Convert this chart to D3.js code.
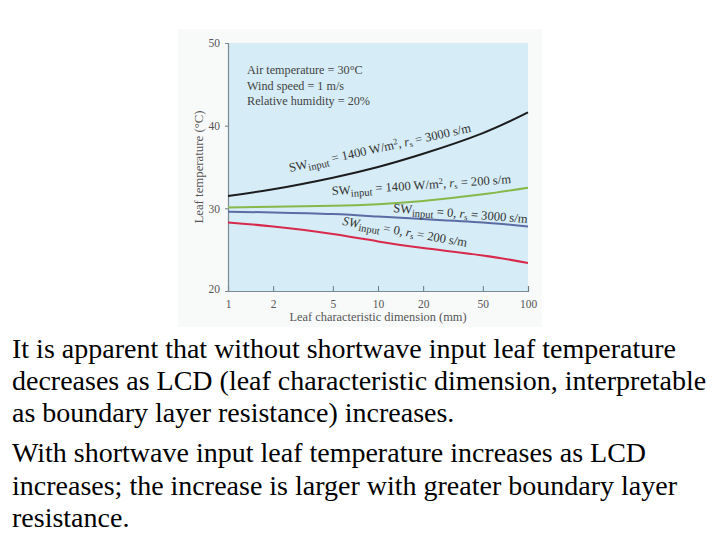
<!DOCTYPE html>
<html>
<head>
<meta charset="utf-8">
<script src="https://cdn.jsdelivr.net/npm/d3@7"></script>
<style>
body{margin:0;background:#fff;}
svg{display:block;}
</style>
</head>
<body>
<script>
// leaf characteristic dimension (mm)
var dims = [1, 2, 5, 10, 20, 50, 100];
// leaf temperature (C)
var swHighRs3000 = [31.5, 32.3, 33.7, 35.0, 36.6, 39.1, 41.6];
var swHighRs200 = [30.1, 30.2, 30.3, 30.5, 30.9, 31.7, 32.5];
var swZeroRs3000 = [29.6, 29.5, 29.3, 29.0, 28.7, 28.3, 27.8];
var swZeroRs200 = [28.3, 27.8, 26.9, 26.0, 25.2, 24.3, 23.4];
var xTicks = [1, 2, 5, 10, 20, 50, 100];
var yTicks = [20, 30, 40, 50];
var conditions = ["Air temperature = 30°C", "Wind speed = 1 m/s", "Relative humidity = 20%"];
var notes = [
  ["It is apparent that without shortwave input leaf temperature",
   "decreases as LCD (leaf characteristic dimension, interpretable",
   "as boundary layer resistance) increases."],
  ["With shortwave input leaf temperature increases as LCD",
   "increases; the increase is larger with greater boundary layer",
   "resistance."]
];

var width = 720, height = 540;
var svg = d3.select("body").append("svg")
    .attr("width", width)
    .attr("height", height);

// plot box (named so they don't clash with window.top)
var pLeft = 228, pRight = 528, pTop = 43, pBottom = 291;
var serif = "'Liberation Serif', 'DejaVu Serif', serif";

var x = d3.scaleLog().domain([1, 100]).range([pLeft, pRight]);
var y = d3.scaleLinear().domain([20, 50]).range([pBottom, pTop]);

// faint figure background + panel
svg.append("rect")
    .attr("x", 178).attr("y", 29)
    .attr("width", 364).attr("height", 298)
    .attr("fill", "#f8fafa");
svg.append("rect")
    .attr("x", pLeft).attr("y", pTop)
    .attr("width", pRight - pLeft).attr("height", pBottom - pTop)
    .attr("fill", "#d6ecf6");

// axes
var xAxis = svg.append("g")
    .attr("transform", "translate(0," + pBottom + ")")
    .call(d3.axisBottom(x).tickValues(xTicks).tickSize(-5).tickPadding(9).tickFormat(d3.format("d")));
var yAxis = svg.append("g")
    .attr("transform", "translate(" + pLeft + ",0)")
    .call(d3.axisLeft(y).tickValues(yTicks).tickSize(3).tickPadding(5));

[xAxis, yAxis].forEach(function(g){
    g.select(".domain").attr("stroke", "#7a8a90").attr("stroke-width", 1.2);
    g.selectAll(".tick line").attr("stroke", "#6a7a80");
    g.selectAll(".tick text")
        .attr("font-family", serif)
        .attr("font-size", 11.5)
        .attr("fill", "#555");
});
yAxis.selectAll(".tick").filter(function(d){ return d == 20 || d == 50; }).select("line").remove();
yAxis.selectAll(".tick text").attr("dy", "0.32em");
yAxis.selectAll(".tick").filter(function(d){ return d == 20; }).select("text").attr("dy", "0.1em");

svg.append("text")
    .attr("x", (pLeft + pRight) / 2).attr("y", 321)
    .attr("text-anchor", "middle")
    .attr("font-family", serif).attr("font-size", 12.4)
    .attr("fill", "#555")
    .text("Leaf characteristic dimension (mm)");

svg.append("text")
    .attr("transform", "translate(203," + (pTop + pBottom) / 2 + ") rotate(-90)")
    .attr("text-anchor", "middle")
    .attr("font-family", serif).attr("font-size", 12.8)
    .attr("fill", "#555")
    .text("Leaf temperature (°C)");

// condition box
svg.selectAll(".cond").data(conditions).enter().append("text")
    .attr("class", "cond")
    .attr("x", 247)
    .attr("y", function(d, i){ return 74 + i * 15.5; })
    .attr("font-family", serif).attr("font-size", 12.2)
    .attr("fill", "#444")
    .text(function(d){ return d; });

// curves
var series = [
    {vals: swHighRs3000, color: "#1c1c1c", sw: "1400 W/m", rs: "3000", at: [2.59, 34.4], angle: -12.5, italic: false},
    {vals: swHighRs200, color: "#86b94a", sw: "1400 W/m", rs: "200", at: [4.94, 31.6], angle: -3.8, italic: false},
    {vals: swZeroRs3000, color: "#5a6ca4", sw: "0", rs: "3000", at: [12.6, 29.55], angle: 4.7, italic: false},
    {vals: swZeroRs200, color: "#d8294c", sw: "0", rs: "200", at: [5.75, 28.0], angle: 10, italic: true}
];

var line = d3.line()
    .x(function(d){ return x(d[0]); })
    .y(function(d){ return y(d[1]); })
    .curve(d3.curveNatural);

series.forEach(function(s){
    var pts = dims.map(function(d, i){ return [d, s.vals[i]]; });
    svg.append("path")
        .attr("d", line(pts))
        .attr("fill", "none")
        .attr("stroke", s.color)
        .attr("stroke-width", 2);

    var t = svg.append("text")
        .attr("transform", "translate(" + x(s.at[0]) + "," + y(s.at[1]) + ") rotate(" + s.angle + ")")
        .attr("font-family", serif).attr("font-size", 12.6)
        .attr("fill", "#333");
    t.append("tspan").attr("font-style", s.italic ? "italic" : "normal").text("SW");
    t.append("tspan").attr("dy", 3).attr("font-size", 10.5).text("input");
    if (s.sw == "0") {
        t.append("tspan").attr("dy", -3).text(" = 0, ");
    } else {
        t.append("tspan").attr("dy", -3).text(" = " + s.sw);
        t.append("tspan").attr("dy", -4).attr("font-size", 8.5).text("2");
        t.append("tspan").attr("dy", 4).text(", ");
    }
    t.append("tspan").attr("font-style", "italic").text("r");
    t.append("tspan").attr("dy", 2).attr("font-size", 8.5).text("s");
    t.append("tspan").attr("dy", -2).text(" = " + s.rs + " s/m");
});

// notes under the figure
var lineY = [358, 390, 422, 462, 495, 527];
var flat = notes[0].concat(notes[1]);
svg.selectAll(".note").data(flat).enter().append("text")
    .attr("class", "note")
    .attr("x", 12)
    .attr("y", function(d, i){ return lineY[i]; })
    .attr("font-family", "'Liberation Serif', 'Times New Roman', serif")
    .attr("font-size", 28)
    .attr("fill", "#000")
    .text(function(d){ return d; });
</script>
</body>
</html>
